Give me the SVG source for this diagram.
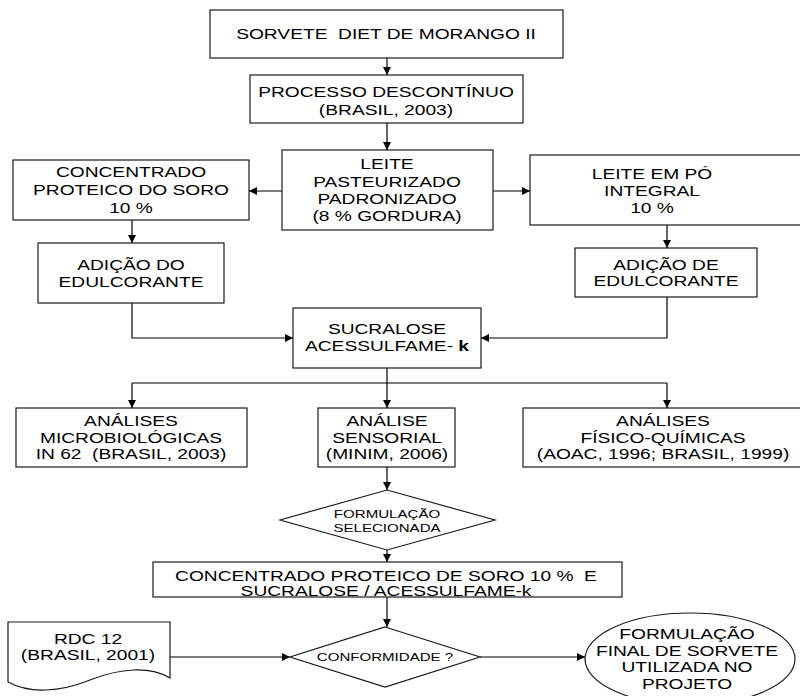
<svg xmlns="http://www.w3.org/2000/svg" width="800" height="696" viewBox="0 0 800 696">
<style>
.b{fill:#fff;stroke:#1a1a1a;stroke-width:1.2}
.t{font-family:"Liberation Sans",Arial,sans-serif;font-size:14px;fill:#000;text-anchor:middle;white-space:pre}
.s{font-size:11px}
.c{fill:none;stroke:#000;stroke-width:1.2}
</style>
<defs>
<marker id="ah" viewBox="0 0 10 10" refX="10" refY="5" markerUnits="userSpaceOnUse" markerWidth="9" markerHeight="8" orient="auto"><path d="M0,0 L10,5 L0,10 z" fill="#000"/></marker>
</defs>
<rect width="800" height="696" fill="#fff"/>
<g id="connectors">
<path class="c" d="M387,58 V75" marker-end="url(#ah)"/>
<path class="c" d="M387,123 V150" marker-end="url(#ah)"/>
<path class="c" d="M282,191 H249" marker-end="url(#ah)"/>
<path class="c" d="M493,191 H530" marker-end="url(#ah)"/>
<path class="c" d="M132,220 V243" marker-end="url(#ah)"/>
<path class="c" d="M667,225 V248" marker-end="url(#ah)"/>
<path class="c" d="M132,303 V338 H293" marker-end="url(#ah)"/>
<path class="c" d="M667,297 V338 H481" marker-end="url(#ah)"/>
<path class="c" d="M387,368 V408" marker-end="url(#ah)"/>
<path class="c" d="M132,383 H667"/>
<path class="c" d="M132,383 V408" marker-end="url(#ah)"/>
<path class="c" d="M667,383 V408" marker-end="url(#ah)"/>
<path class="c" d="M387,467 V490" marker-end="url(#ah)"/>
<path class="c" d="M387,550 V562" marker-end="url(#ah)"/>
<path class="c" d="M387,597 V627" marker-end="url(#ah)"/>
<path class="c" d="M170,657 H290" marker-end="url(#ah)"/>
<path class="c" d="M480,657 H585" marker-end="url(#ah)"/>
</g>
<g id="sorvete">
<rect class="b" x="210" y="10" width="353" height="48"/>
<text class="t" xml:space="preserve" transform="translate(386 0) scale(1.37 1)"><tspan x="0" y="39">SORVETE  DIET DE MORANGO II</tspan></text>
</g>
<g id="processo">
<rect class="b" x="250" y="75" width="273" height="48"/>
<text class="t" transform="translate(386 0) scale(1.37 1)"><tspan x="0" y="97">PROCESSO DESCONTÍNUO</tspan><tspan x="0" y="115">(BRASIL, 2003)</tspan></text>
</g>
<g id="leite">
<rect class="b" x="282" y="150" width="211" height="80"/>
<text class="t" transform="translate(387 0) scale(1.37 1)"><tspan x="0" y="169">LEITE</tspan><tspan x="0" y="187">PASTEURIZADO</tspan><tspan x="0" y="204">PADRONIZADO</tspan><tspan x="0" y="221">(8 % GORDURA)</tspan></text>
</g>
<g id="concentrado">
<rect class="b" x="13" y="160" width="236" height="60"/>
<text class="t" transform="translate(131 0) scale(1.37 1)"><tspan x="0" y="177">CONCENTRADO</tspan><tspan x="0" y="195">PROTEICO DO SORO</tspan><tspan x="0" y="213">10 %</tspan></text>
</g>
<g id="leite-po">
<rect class="b" x="530" y="155" width="276" height="70"/>
<text class="t" transform="translate(652 0) scale(1.37 1)"><tspan x="0" y="179">LEITE EM PÓ</tspan><tspan x="0" y="196">INTEGRAL</tspan><tspan x="0" y="213">10 %</tspan></text>
</g>
<g id="adicao-do">
<rect class="b" x="38" y="243" width="186" height="60"/>
<text class="t" transform="translate(131 0) scale(1.37 1)"><tspan x="0" y="270">ADIÇÃO DO</tspan><tspan x="0" y="287">EDULCORANTE</tspan></text>
</g>
<g id="adicao-de">
<rect class="b" x="575" y="248" width="182" height="49"/>
<text class="t" transform="translate(666 0) scale(1.37 1)"><tspan x="0" y="270">ADIÇÃO DE</tspan><tspan x="0" y="286">EDULCORANTE</tspan></text>
</g>
<g id="sucralose">
<rect class="b" x="293" y="308" width="188" height="60"/>
<text class="t" transform="translate(387 0) scale(1.37 1)"><tspan x="0" y="334">SUCRALOSE</tspan><tspan x="0" y="351">ACESSULFAME- <tspan font-weight="bold">k</tspan></tspan></text>
</g>
<g id="microbiologicas">
<rect class="b" x="16" y="408" width="231" height="59"/>
<text class="t" xml:space="preserve" transform="translate(131 0) scale(1.37 1)"><tspan x="0" y="426">ANÁLISES</tspan><tspan x="0" y="443">MICROBIOLÓGICAS</tspan><tspan x="0" y="459">IN 62  (BRASIL, 2003)</tspan></text>
</g>
<g id="sensorial">
<rect class="b" x="318" y="408" width="137" height="59"/>
<text class="t" transform="translate(387 0) scale(1.37 1)"><tspan x="0" y="426">ANÁLISE</tspan><tspan x="0" y="443">SENSORIAL</tspan><tspan x="0" y="459">(MINIM, 2006)</tspan></text>
</g>
<g id="fisico">
<rect class="b" x="523" y="408" width="283" height="59"/>
<text class="t" transform="translate(663 0) scale(1.37 1)"><tspan x="0" y="426">ANÁLISES</tspan><tspan x="0" y="443">FÍSICO-QUÍMICAS</tspan><tspan x="0" y="459">(AOAC, 1996; BRASIL, 1999)</tspan></text>
</g>
<g id="formulacao-selecionada">
<polygon class="b" points="387,490 495,520 387,550 280,520"/>
<text class="t s" transform="translate(387 0) scale(1.37 1)"><tspan x="0" y="518">FORMULAÇÃO</tspan><tspan x="0" y="532">SELECIONADA</tspan></text>
</g>
<g id="concentrado-sucralose">
<rect class="b" x="153" y="562" width="469" height="35"/>
<text class="t" xml:space="preserve" transform="translate(386 0) scale(1.37 1)"><tspan x="0" y="581">CONCENTRADO PROTEICO DE SORO 10 %  E</tspan><tspan x="0" y="596">SUCRALOSE / ACESSULFAME-k</tspan></text>
</g>
<g id="conformidade">
<polygon class="b" points="385,627 480,657 385,687 290,657"/>
<text class="t s" transform="translate(385 0) scale(1.37 1)"><tspan x="0" y="661">CONFORMIDADE ?</tspan></text>
</g>
<g id="rdc">
<path class="b" d="M8,622 H170 V678 C150,666 120,668 90,680 C60,692 30,694 8,682 Z"/>
<text class="t" transform="translate(88 0) scale(1.37 1)"><tspan x="0" y="644">RDC 12</tspan><tspan x="0" y="660">(BRASIL, 2001)</tspan></text>
</g>
<g id="formulacao-final">
<ellipse class="b" cx="690" cy="659" rx="105" ry="46"/>
<text class="t" transform="translate(687 0) scale(1.37 1)"><tspan x="0" y="639">FORMULAÇÃO</tspan><tspan x="0" y="656">FINAL DE SORVETE</tspan><tspan x="0" y="672">UTILIZADA NO</tspan><tspan x="0" y="689">PROJETO</tspan></text>
</g>
</svg>
